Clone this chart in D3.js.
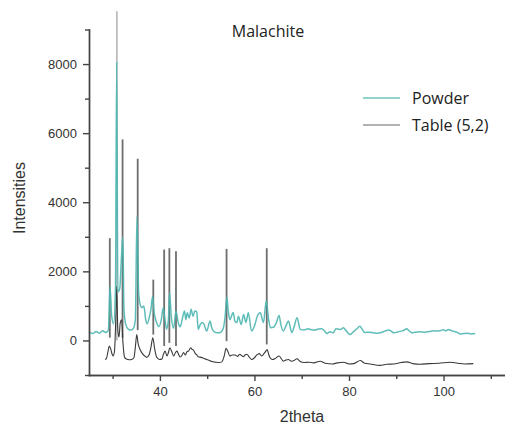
<!DOCTYPE html>
<html lang="en">
<head>
  <meta charset="utf-8">
  <title>Malachite</title>
  <script type="text/javascript" src="https://d3js.org/d3.v7.min.js"></script>
  <style type="text/css">
    body { margin: 0; background: #fff; }
    .axis path, .axis line { stroke: #444; stroke-width: 1.4; }
    .axis text { font-family: "Liberation Sans", Arial, sans-serif; font-size: 13px; fill: #333; }
    .powderLine { fill: none; stroke: #4cb6b0; stroke-width: 1.5; stroke-opacity: 0.9; }
    .tableLine { fill: none; stroke: #3a3a3a; stroke-width: 1.1; }
    .stick { stroke-width: 1.8; }
  </style>
</head>
<body>
  <script type="text/javascript">
  // Global variables
  var w = 505;
  var h = 426;

  // Powder pattern (2theta, intensity)
  var powderTheta = [25.0, 25.8, 26.5, 27.2, 27.9, 28.5, 29.1, 29.45, 29.8, 30.2, 30.6, 30.86, 31.1, 31.5, 31.9, 32.15, 32.4, 32.8, 33.3, 33.9,
    34.4, 34.8, 35.15, 35.5, 35.8, 36.2, 36.6, 37.0, 37.3, 37.8, 38.1, 38.45, 38.8, 39.3, 39.8, 40.3, 40.7, 41.0, 41.4, 41.8,
    42.05, 42.4, 42.9, 43.4, 43.9, 44.3, 44.7, 45.2, 45.5, 45.8, 46.2, 46.6, 47.0, 47.4, 47.8, 48.1, 48.5, 48.9, 49.3, 49.9,
    50.6, 51.0, 51.5, 52.2, 52.8, 53.4, 53.8, 54.15, 54.5, 54.8, 55.5, 55.9, 56.3, 56.6, 57.2, 57.7, 58.2, 58.7, 59.4, 60.1,
    60.6, 61.2, 61.9, 62.5, 63.0, 63.4, 64.0, 64.6, 65.2, 65.6, 66.1, 66.6, 67.2, 67.9, 68.4, 69.0, 69.7, 70.5, 71.3, 72.0,
    72.8, 73.5, 74.2, 74.8, 75.3, 76.0, 76.7, 77.2, 77.7, 78.3, 78.8, 79.4, 80.2, 80.9, 81.6, 82.3, 82.8, 83.3, 84.2, 85.2,
    86.0, 86.8, 87.6, 88.4, 89.0, 89.5, 90.2, 91.0, 91.7, 92.2, 92.7, 93.3, 94.0, 95.0, 96.0, 97.0, 97.9, 98.6, 99.4, 100.0,
    100.5, 101.0, 101.6, 102.3, 102.8, 103.5, 104.2, 105.0, 105.8, 106.7];
  var powderI = [240, 200, 260, 210, 280, 230, 300, 1560, 700, 480, 1500, 8060, 1400, 1500, 2500, 3000, 900, 450, 330, 300,
    350, 600, 3580, 1400, 1050, 950, 1000, 600, 480, 700, 900, 1280, 800, 520, 400, 600, 950, 700, 330, 600,
    1380, 700, 350, 850, 500, 400, 600, 850, 600, 800, 650, 900, 700, 850, 820, 320, 450, 520, 480, 270,
    560, 350, 250, 220, 230, 350, 700, 1250, 800, 600, 810, 550, 520, 700, 460, 750, 520, 800, 270, 460,
    700, 800, 520, 1150, 600, 370, 380, 500, 720, 450, 270, 400, 560, 230, 400, 660, 320, 300, 340, 310,
    300, 330, 340, 280, 200, 250, 220, 340, 330, 320, 370, 280, 170, 250, 330, 410, 320, 230, 240, 220,
    210, 230, 270, 300, 260, 220, 240, 270, 300, 340, 280, 220, 240, 250, 240, 260, 280, 270, 290, 310,
    280, 320, 290, 260, 240, 190, 200, 210, 190, 200];

  // Table (5,2) calculated profile (2theta, intensity)
  var tableTheta = [28.4, 28.7, 29.0, 29.3, 29.6, 29.9, 30.1, 30.4, 30.7, 30.86, 31.1, 31.35, 31.6, 31.9, 32.2, 32.5, 32.9, 33.5, 34.0, 34.5,
    34.8, 35.1, 35.4, 35.8, 36.3, 36.8, 37.2, 37.7, 38.1, 38.5, 38.9, 39.3, 39.9, 40.4, 40.8, 41.1, 41.5, 41.8, 42.1, 42.5,
    42.9, 43.3, 43.6, 44.0, 44.3, 44.7, 45.0, 45.4, 45.7, 46.1, 46.5, 46.8, 47.1, 47.5, 47.8, 48.1, 48.8, 49.3, 49.9, 50.5,
    51.0, 51.8, 52.5, 53.1, 53.6, 54.0, 54.4, 54.8, 55.3, 55.9, 56.4, 56.9, 57.3, 57.7, 58.0, 58.4, 58.9, 59.4, 60.0, 60.5,
    61.0, 61.5, 61.9, 62.3, 62.7, 63.0, 63.3, 63.8, 64.4, 65.2, 65.7, 66.1, 66.6, 67.2, 67.8, 68.4, 69.0, 69.6, 70.5, 71.5,
    72.5, 73.9, 75.0, 76.5, 77.5, 78.8, 80.0, 81.0, 82.4, 83.2, 84.5, 86.6, 88.0, 89.5, 91.0, 92.2, 93.5, 95.0, 97.0, 99.0,
    101.4, 103.0, 104.5, 106.3];
  var tableI = [-550, -520, -330, -160, -250, -400, -450, -300, 800, 1570, 300, 100, 500, 600, -100, -480, -540, -560, -550, -500,
    -200, 170, -100, -260, -380, -450, -490, -420, -200, 80, -250, -480, -550, -540, -380, -310, -450, -350, -210, -320,
    -450, -350, -310, -420, -480, -420, -350, -420, -330, -300, -210, -260, -280, -380, -420, -470, -490, -520, -550, -580,
    -610, -630, -640, -620, -450, -230, -330, -450, -420, -420, -460, -400, -440, -470, -420, -400, -480, -550, -500, -420,
    -380, -450, -400, -330, -260, -400, -500, -550, -520, -450, -530, -600, -570, -550, -600, -580, -530, -600, -640, -630,
    -650, -600, -660, -680, -650, -630, -680, -670, -580, -650, -680, -720, -690, -680, -640, -620, -670, -690, -670, -660,
    -630, -660, -680, -670];

  // Table (5,2) reflection lines
  var stickTheta = [29.4, 30.9, 32.1, 35.3, 38.6, 40.9, 42.0, 43.4, 54.1, 62.6];
  var stickBase = [80, 0, 80, 300, 170, -160, -70, -160, -20, -115];
  var stickTop = [2960, 9530, 5820, 5260, 1760, 2630, 2670, 2580, 2650, 2670];

  var xMajor = [40, 60, 80, 100];
  var xMinor = [30, 50, 70, 90, 110];
  var yMajor = [0, 2000, 4000, 6000, 8000];
  var yMinor = [-1000, 1000, 3000, 5000, 7000, 9000];

  var seriesNames = ["Powder", "Table (5,2)"];

  var powder = powderTheta.map(function(t, i) { return [t, powderI[i]]; });
  var table = tableTheta.map(function(t, i) { return [t, tableI[i]]; });
  var sticks = stickTheta.map(function(t, i) { return {t: t, base: stickBase[i], top: stickTop[i]}; });

  var svg = d3.select("body")
    .append("svg")
    .attr("width", w)
    .attr("height", h);

  var xScale = d3.scaleLinear().domain([25, 113]).range([89, 505]);
  var yScale = d3.scaleLinear().domain([-1000, 9000]).range([375, 29.5]);

  //Define line generator
  var line = d3.line()
    .curve(d3.curveMonotoneX)
    .x(function(d) { return xScale(d[0]); })
    .y(function(d) { return yScale(d[1]); });

  svg.append("g").selectAll("line")
    .data(sticks)
    .enter()
    .append("line")
    .attr("class", "stick")
    .attr("x1", function(d) { return xScale(d.t); })
    .attr("x2", function(d) { return xScale(d.t); })
    .attr("y1", function(d) { return yScale(d.base); })
    .attr("y2", function(d) { return yScale(d.top); })
    .attr("stroke", function(d) { return d.top > 9000 ? "#bdbdbd" : "#6e6e6e"; });

  svg.append("path")
    .datum(table)
    .attr("class", "tableLine")
    .attr("d", line);

  svg.append("path")
    .datum(powder)
    .attr("class", "powderLine")
    .attr("d", line);

  // axes: major ticks with labels, minor ticks without
  var xAxis = d3.axisBottom(xScale).tickValues(xMajor).tickSizeInner(6).tickSizeOuter(0).tickPadding(6).tickFormat(d3.format("d"));
  var xAxisMinor = d3.axisBottom(xScale).tickValues(xMinor).tickSizeInner(4).tickSizeOuter(0).tickFormat("");
  var yAxis = d3.axisLeft(yScale).tickValues(yMajor).tickSizeInner(6).tickSizeOuter(0).tickPadding(6).tickFormat(d3.format("d"));
  var yAxisMinor = d3.axisLeft(yScale).tickValues(yMinor).tickSizeInner(4).tickSizeOuter(0).tickFormat("");

  svg.append("g").attr("class", "axis").attr("transform", "translate(0," + yScale(-1000) + ")").call(xAxisMinor);
  svg.append("g").attr("class", "axis").attr("transform", "translate(0," + yScale(-1000) + ")").call(xAxis);
  svg.append("g").attr("class", "axis").attr("transform", "translate(" + xScale(25) + ",0)").call(yAxisMinor);
  svg.append("g").attr("class", "axis").attr("transform", "translate(" + xScale(25) + ",0)").call(yAxis);

  svg.selectAll(".axis .domain").attr("stroke-linecap", "square");

  // titles
  svg.append("text")
    .attr("x", 268).attr("y", 37)
    .attr("text-anchor", "middle")
    .style("font-family", "'Open Sans', sans-serif")
    .style("font-size", "16px")
    .attr("fill", "#222")
    .text("Malachite");

  svg.append("text")
    .attr("x", 302).attr("y", 422)
    .attr("text-anchor", "middle")
    .style("font-family", "'Liberation Sans', Arial, sans-serif")
    .style("font-size", "16px")
    .attr("fill", "#333")
    .text("2theta");

  svg.append("text")
    .attr("transform", "translate(25,198) rotate(-90)")
    .attr("text-anchor", "middle")
    .style("font-family", "'Liberation Sans', Arial, sans-serif")
    .style("font-size", "16px")
    .attr("fill", "#333")
    .text("Intensities");

  // legend
  var legend = svg.append("g").attr("transform", "translate(363,98)");
  var legendColors = ["#6cc5bf", "#9a9a9a"];
  seriesNames.forEach(function(name, i) {
    var g = legend.append("g").attr("transform", "translate(0," + (i * 27) + ")");
    g.append("line").attr("x1", 0).attr("x2", 37).attr("y1", 0).attr("y2", 0)
      .attr("stroke", legendColors[i]).attr("stroke-width", 1.5);
    g.append("text").attr("x", 49).attr("y", 5.5)
      .style("font-family", "'Open Sans', sans-serif")
      .style("font-size", "16px")
      .attr("fill", "#222")
      .text(name);
  });
  </script>
</body>
</html>
